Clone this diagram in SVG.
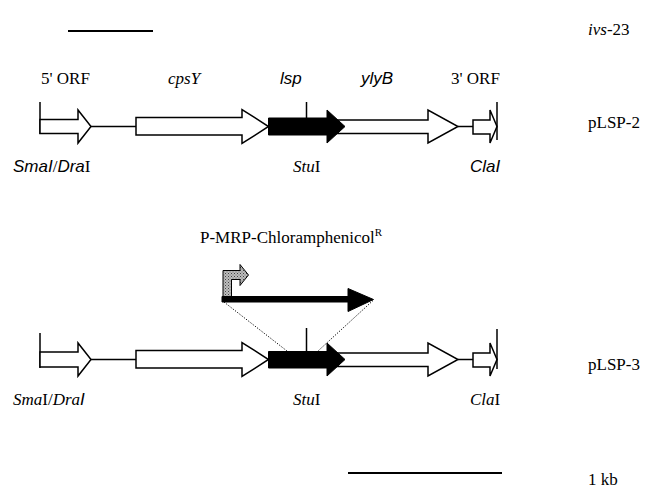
<svg xmlns="http://www.w3.org/2000/svg" width="647" height="500" viewBox="0 0 647 500">
<style>
.t{font-family:"Liberation Serif","Times New Roman",serif;font-size:17px;fill:#000}
.si{font-family:"Liberation Sans",Arial,sans-serif;font-style:italic}
.i{font-style:italic}
.ln{stroke:#000;stroke-width:1.5;fill:none}
.wa{fill:#fff;stroke:#000;stroke-width:1.5;stroke-linejoin:miter}
.ba{fill:#000;stroke:#000;stroke-width:1}
.dot{stroke:#000;stroke-width:1;stroke-dasharray:1.2,1.6;fill:none}
.bar{stroke:#000;stroke-width:2}
</style>
<defs>
<pattern id="stip" width="3" height="3" patternUnits="userSpaceOnUse">
<rect width="3" height="3" fill="#bdbdbd"/>
<rect x="0" y="0" width="1" height="1" fill="#444"/>
<rect x="1.5" y="1.5" width="1" height="1" fill="#666"/>
</pattern>
</defs>

<g id="scale-top"><line class="bar" x1="68" y1="31" x2="153" y2="31"/></g>
<text class="t" x="588" y="35"><tspan class="i">ivs</tspan>-23</text>

<g id="pLSP2">
<g id="connectors-row1">
<line class="ln" x1="91" y1="126.5" x2="136" y2="126.5"/>
<line class="ln" x1="458" y1="126.5" x2="473" y2="126.5"/>
</g>
<g id="orf5-r1">
<line class="ln" x1="40" y1="102" x2="40" y2="134"/>
<polygon class="wa" points="40,119.5 78,119.5 78,110 91,126.5 78,143 78,133.5 40,133.5"/>
</g>
<g id="cpsY-r1"><polygon class="wa" points="136,117.5 242,117.5 242,109.5 268.5,126.5 242,143.5 242,135 136,135"/></g>
<g id="ylyB-r1"><polygon class="wa" points="320,120 428,120 428,110 458,126.5 428,143 428,133.5 320,133.5"/></g>
<g id="lsp-r1">
<polygon class="ba" points="268.5,118 327,118 327,110 345,126.5 327,143 327,135 268.5,135"/>
<line class="ln" x1="306.5" y1="102" x2="306.5" y2="118"/>
</g>
<g id="orf3-r1">
<polygon class="wa" points="473,120 490,120 490,110 497,126.5 490,143 490,134 473,134"/>
<line class="ln" x1="497" y1="102" x2="497" y2="140"/>
</g>
<text class="t" x="41" y="84">5' ORF</text>
<text class="t i" x="168" y="84">cpsY</text>
<text class="t si" x="280" y="84">lsp</text>
<text class="t si" x="361" y="84">ylyB</text>
<text class="t" x="451" y="84">3' ORF</text>
<text class="t" x="13" y="172"><tspan class="si">SmaI</tspan>/<tspan class="si">Dra</tspan>I</text>
<text class="t" x="293" y="172"><tspan class="i">Stu</tspan>I</text>
<text class="t si" x="470" y="172">ClaI</text>
<text class="t" x="588" y="128">pLSP-2</text>
</g>

<g id="cassette">
<text class="t" x="200" y="243">P-MRP-Chloramphenicol<tspan font-size="11" dy="-7">R</tspan></text>
<g id="promoter"><polygon fill="url(#stip)" stroke="#000" stroke-width="1" points="223,301 223,270.5 240,270.5 240,264.5 248.5,275 240,285.5 240,279.5 231.5,279.5 231.5,301"/></g>
<g id="cat-arrow"><polygon class="ba" points="222,296.5 348,296.5 348,288.5 373.5,299.5 348,311.5 348,302 222,302"/></g>
</g>

<g id="connectors">
<line class="dot" x1="224" y1="302" x2="287" y2="351"/>
<line class="dot" x1="373" y1="300.5" x2="318" y2="351"/>
</g>

<g id="pLSP3">
<g id="connectors-row2">
<line class="ln" x1="91" y1="359.5" x2="136" y2="359.5"/>
<line class="ln" x1="458" y1="359.5" x2="473" y2="359.5"/>
</g>
<g id="orf5-r2">
<line class="ln" x1="40" y1="333" x2="40" y2="368"/>
<polygon class="wa" points="40,352 78,352 78,343 91,359.5 78,376 78,367 40,367"/>
</g>
<g id="cpsY-r2"><polygon class="wa" points="136,350.5 242,350.5 242,342.5 268.5,359.5 242,376.5 242,368 136,368"/></g>
<g id="ylyB-r2"><polygon class="wa" points="320,353 428,353 428,343 458,359.5 428,376 428,366.5 320,366.5"/></g>
<g id="lsp-r2">
<polygon class="ba" points="268.5,351.5 327,351.5 327,343 345,359.5 327,376 327,368 268.5,368"/>
<line class="ln" x1="306.5" y1="328" x2="306.5" y2="351.5"/>
</g>
<g id="orf3-r2">
<polygon class="wa" points="473,353 490,353 490,343 497,359.5 490,376 490,367 473,367"/>
<line class="ln" x1="497" y1="329" x2="497" y2="369"/>
</g>
<text class="t" x="13" y="405"><tspan class="i">Sma</tspan>I/<tspan class="i">Dra</tspan><tspan class="si">I</tspan></text>
<text class="t" x="293" y="405"><tspan class="i">Stu</tspan>I</text>
<text class="t" x="470" y="405"><tspan class="i">Cla</tspan>I</text>
<text class="t" x="588" y="370">pLSP-3</text>
</g>

<g id="scale-bottom"><line class="bar" x1="348" y1="473" x2="502" y2="473"/></g>
<text class="t" x="588" y="485">1 kb</text>
</svg>
